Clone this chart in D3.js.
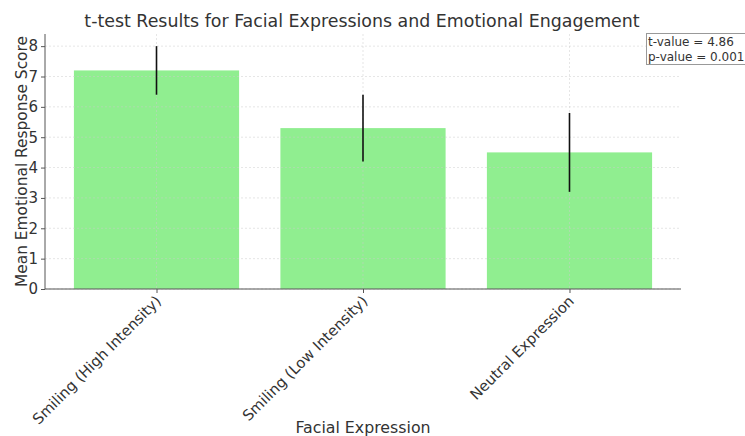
<!DOCTYPE html>
<html><head><meta charset="utf-8">
<script src="https://cdn.jsdelivr.net/npm/d3@7"></script>
<style>body{margin:0;background:#fff}text{font-family:"DejaVu Sans",sans-serif;fill:#333}</style>
</head><body><svg id="c" width="745" height="436"></svg>
<script>
const categories = ["Smiling (High Intensity)", "Smiling (Low Intensity)", "Neutral Expression"];
const means = [7.2, 5.3, 4.5];
const errors = [0.8, 1.1, 1.3];
const yTicks = [0,1,2,3,4,5,6,7,8];
const statLines = ["t-value = 4.86", "p-value = 0.001"];

const svg = d3.select("#c");
const L = 45, R = 681, T = 34, B = 289;
const x = d3.scaleLinear().domain([-0.54, 2.54]).range([L, R]);
const y = d3.scaleLinear().domain([0, 8.4]).range([B, T]);
const bw = x(0.8) - x(0);

// bars
svg.selectAll("rect.bar").data(means).enter().append("rect")
  .attr("x", (d,i)=>x(i)-bw/2).attr("width", bw)
  .attr("y", d=>y(d)).attr("height", d=>B-y(d))
  .attr("fill", "#90ee90");

// grid
const g = svg.append("g");
g.selectAll("line.h").data(yTicks).enter().append("line")
  .attr("x1", L).attr("x2", R).attr("y1", d=>y(d)).attr("y2", d=>y(d))
  .attr("stroke", "#ccc").attr("stroke-width", 0.8).attr("stroke-dasharray", "2,2").attr("opacity", 0.6);
g.selectAll("line.v").data(categories).enter().append("line")
  .attr("x1", (d,i)=>x(i)).attr("x2", (d,i)=>x(i)).attr("y1", T).attr("y2", B)
  .attr("stroke", "#ccc").attr("stroke-width", 0.8).attr("stroke-dasharray", "2,2").attr("opacity", 0.6);

// error bars
svg.selectAll("line.err").data(means).enter().append("line")
  .attr("x1", (d,i)=>x(i)).attr("x2", (d,i)=>x(i))
  .attr("y1", (d,i)=>y(d+errors[i])).attr("y2", (d,i)=>y(d-errors[i]))
  .attr("stroke", "#111").attr("stroke-width", 1.6);

// y axis
const ya = svg.append("g").attr("transform", `translate(${L},0)`)
  .call(d3.axisLeft(y).tickValues(yTicks).tickSize(4).tickPadding(3).tickFormat(d3.format("d")));
ya.select(".domain").attr("d", `M0,${T}V${B}`).attr("stroke", "#555");
ya.selectAll(".tick line").attr("stroke", "#555");
ya.selectAll("text").style("font-size", "15px").attr("fill", "#333");

// x axis
const xa = svg.append("g").attr("transform", `translate(0,${B})`)
  .call(d3.axisBottom(x).tickValues([0,1,2]).tickSize(4).tickFormat(i=>categories[i]));
xa.select(".domain").attr("d", `M${L},0H${R}`).attr("stroke", "#555");
xa.selectAll(".tick line").attr("stroke", "#555");
xa.selectAll("text").style("font-size", "14.8px").attr("fill", "#333")
  .attr("text-anchor", "end").attr("dy", null).attr("y", 0)
  .attr("transform", "translate(5,13) rotate(-45)");

// title & labels
svg.append("text").attr("x", 362).attr("y", 27).attr("text-anchor", "middle")
  .style("font-size", "17.4px").text("t-test Results for Facial Expressions and Emotional Engagement");
svg.append("text").attr("x", 363).attr("y", 433).attr("text-anchor", "middle")
  .style("font-size", "15.8px").text("Facial Expression");
svg.append("text").attr("transform", `translate(27,${(T+B)/2}) rotate(-90)`).attr("text-anchor", "middle")
  .style("font-size", "15.4px").text("Mean Emotional Response Score");

// stat box
const bx = svg.append("g");
bx.append("rect").attr("x", 646.5).attr("y", 33.5).attr("width", 110).attr("height", 31)
  .attr("fill", "#fff").attr("stroke", "#999").attr("stroke-width", 1);
bx.selectAll("text").data(statLines).enter().append("text")
  .attr("x", 648).attr("y", (d,i)=>46+i*14.5).style("font-size", "12px").text(d=>d);
</script></body></html>
